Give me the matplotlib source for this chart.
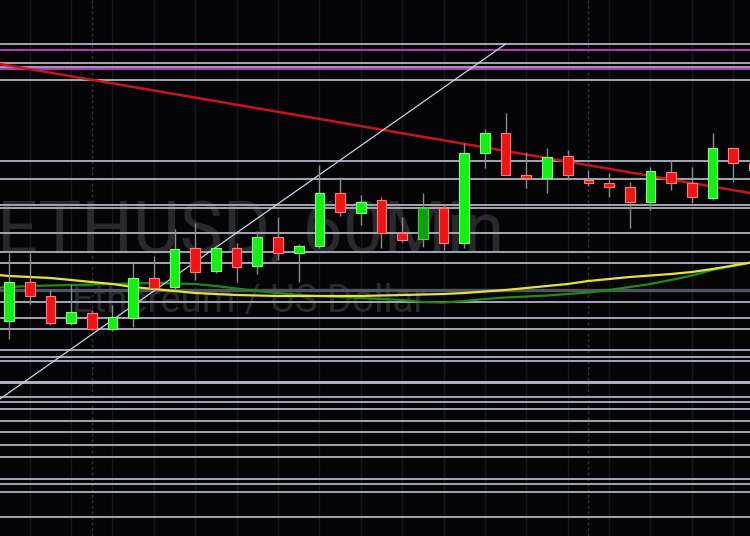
"""ETHUSD 60-min candle chart with drawn levels, trend lines and two moving averages."""
import numpy as np
import matplotlib
matplotlib.use("Agg")
import matplotlib.pyplot as plt  # noqa: E402

# ---- data (prices) ----
opens = [1867.9, 1871.8, 1870.4, 1867.7, 1868.7, 1867.1, 1868.2, 1872.2, 1871.3, 1875.2,
         1872.9, 1875.2, 1873.4, 1876.3, 1874.7, 1875.4, 1880.7, 1878.7, 1880.0, 1876.7,
         1876.1, 1879.2, 1875.7, 1884.7, 1886.7, 1882.5, 1882.2, 1884.4, 1882.0, 1881.7,
         1881.3, 1879.8, 1882.8, 1881.7, 1880.2, 1885.2, 1883.7]
highs = [1874.7, 1874.7, 1871.0, 1871.6, 1869.0, 1869.5, 1873.7, 1874.4, 1877.1, 1877.7,
         1875.5, 1875.7, 1876.9, 1878.3, 1875.6, 1883.5, 1882.3, 1880.5, 1880.3, 1878.3,
         1880.7, 1879.5, 1885.7, 1887.1, 1888.7, 1884.8, 1885.2, 1885.0, 1883.0, 1882.7,
         1881.8, 1883.3, 1884.0, 1883.3, 1886.7, 1885.2, 1884.0]
lows = [1866.1, 1869.6, 1867.5, 1867.5, 1867.0, 1866.9, 1867.3, 1871.0, 1871.0, 1872.0,
        1872.7, 1871.8, 1872.6, 1874.0, 1871.8, 1875.2, 1878.4, 1877.5, 1875.2, 1875.8,
        1875.3, 1875.0, 1875.2, 1883.2, 1882.5, 1881.2, 1880.7, 1882.0, 1881.4, 1880.3,
        1877.2, 1879.0, 1881.0, 1879.7, 1880.0, 1881.8, 1882.8]
closes = [1871.8, 1870.4, 1867.7, 1868.8, 1867.1, 1868.3, 1872.2, 1871.2, 1875.1, 1872.8,
          1875.2, 1873.3, 1876.3, 1874.7, 1875.4, 1880.7, 1878.8, 1879.8, 1876.7, 1876.0,
          1879.2, 1875.7, 1884.7, 1886.7, 1882.5, 1882.2, 1884.3, 1882.5, 1881.7, 1881.3,
          1879.8, 1882.9, 1881.7, 1880.3, 1885.2, 1883.7, 1883.0]

# moving averages, one value per bar starting one bar before the first candle
ma_yellow = [1872.6, 1872.4, 1872.3, 1872.2, 1872.0, 1871.8, 1871.6, 1871.3, 1871.1, 1870.9,
             1870.7, 1870.6, 1870.5, 1870.45, 1870.4, 1870.4, 1870.4, 1870.4, 1870.4, 1870.45,
             1870.5, 1870.55, 1870.6, 1870.7, 1870.85, 1871.0, 1871.2, 1871.4, 1871.6, 1871.9,
             1872.1, 1872.3, 1872.45, 1872.6, 1872.8, 1873.1, 1873.45, 1873.8]
ma_green = [1871.2, 1871.3, 1871.4, 1871.45, 1871.5, 1871.55, 1871.6, 1871.65, 1871.7, 1871.65,
            1871.6, 1871.4, 1871.15, 1870.9, 1870.7, 1870.5, 1870.4, 1870.3, 1870.2, 1870.1,
            1870.0, 1869.8, 1869.75, 1869.9, 1870.1, 1870.25, 1870.35, 1870.45, 1870.6, 1870.75,
            1871.0, 1871.3, 1871.6, 1872.0, 1872.45, 1873.0, 1873.4, 1873.8]

# horizontal levels
grey_levels = [1895.6, 1893.7, 1892.0, 1883.9, 1882.1, 1879.5, 1879.25, 1876.7, 1874.85,
               1873.75, 1869.8, 1868.2, 1867.15, 1865.0, 1864.35, 1863.9, 1860.3, 1859.85,
               1859.1, 1857.9, 1856.8, 1855.5, 1854.3, 1852.1, 1851.6, 1850.8, 1848.3]
purple_levels = [1895.0, 1893.1]
lavender_levels = [1893.3]
dim_level = 1871.0
bright_level = 1861.8

# trend lines (bar index, price)
red_trend_x = [-0.44, 35.8]
red_trend_y = [1893.6, 1880.7]
blue_trend_x = [-0.44, 24.0]
blue_trend_y = [1860.1, 1895.6]

dark_green_bars = [20]
session_breaks = [4, 28]

# ---- figure ----
BG = "#050507"
fig = plt.figure(figsize=(7.5, 5.36), dpi=100, facecolor=BG)
ax = fig.add_axes([0, 0, 1, 1], facecolor=BG)
ax.set_xlim(-0.435, 35.81)
ax.set_ylim(1846.4, 1900.0)
ax.axis("off")

# faint vertical grid every two bars, dotted session separators
for gx in range(1, 37, 2):
    ax.axvline(gx, color="#16171c", lw=1.0, zorder=0)
for sx in session_breaks:
    ax.axvline(sx, color="#34363e", lw=1.0, ls=(0, (2, 2)), zorder=0)

# watermark (behind everything else)
ax.text(-0.004, 0.529, "ETHUSD, 60Min", transform=ax.transAxes, color="#29292b",
        fontsize=52, family="Roboto", zorder=1)
ax.text(0.096, 0.418, "Ethereum / US Dollar", transform=ax.transAxes, color="#29292b",
        fontsize=27.5, family="Roboto", zorder=1)

# levels
for lv in grey_levels:
    ax.axhline(lv, color="#a3a7b5", lw=1.4, zorder=2)
for lv in purple_levels:
    ax.axhline(lv, color="#9b45a8", lw=1.5, zorder=2)
for lv in lavender_levels:
    ax.axhline(lv, color="#c9a6de", lw=1.2, zorder=2)
ax.axhline(dim_level, color="#50545f", lw=2.4, zorder=2)
ax.axhline(bright_level, color="#b8bccb", lw=2.0, zorder=2)

# moving averages
ma_x = np.arange(-1, len(ma_yellow) - 1)
ax.plot(ma_x, ma_green, color="#1f8a1a", lw=1.6, zorder=3)
ax.plot(ma_x, ma_yellow, color="#e6e23a", lw=1.6, zorder=3)

# trend lines
ax.plot(red_trend_x, red_trend_y, color="#c8141c", lw=1.8, zorder=3)
ax.plot(blue_trend_x, blue_trend_y, color="#c5d3e6", lw=0.9, zorder=3)

# candles
idx = np.arange(len(opens))
o = np.array(opens)
c = np.array(closes)
up = c >= o
ax.vlines(idx, lows, highs, color="#8c8c8c", lw=1.0, zorder=4)
body_col = np.where(up, "#14f014", "#f01414")
edge_col = np.where(up, "#7dff7d", "#ff7a7a")
for i in dark_green_bars:
    body_col[i] = "#0aa30a"
    edge_col[i] = "#55c455"
ax.bar(idx, np.maximum(np.abs(c - o), 0.25), bottom=np.minimum(o, c), width=0.47,
       color=body_col, edgecolor=edge_col, linewidth=0.8, zorder=5)

fig.savefig("out.png", dpi=100, facecolor=BG)
